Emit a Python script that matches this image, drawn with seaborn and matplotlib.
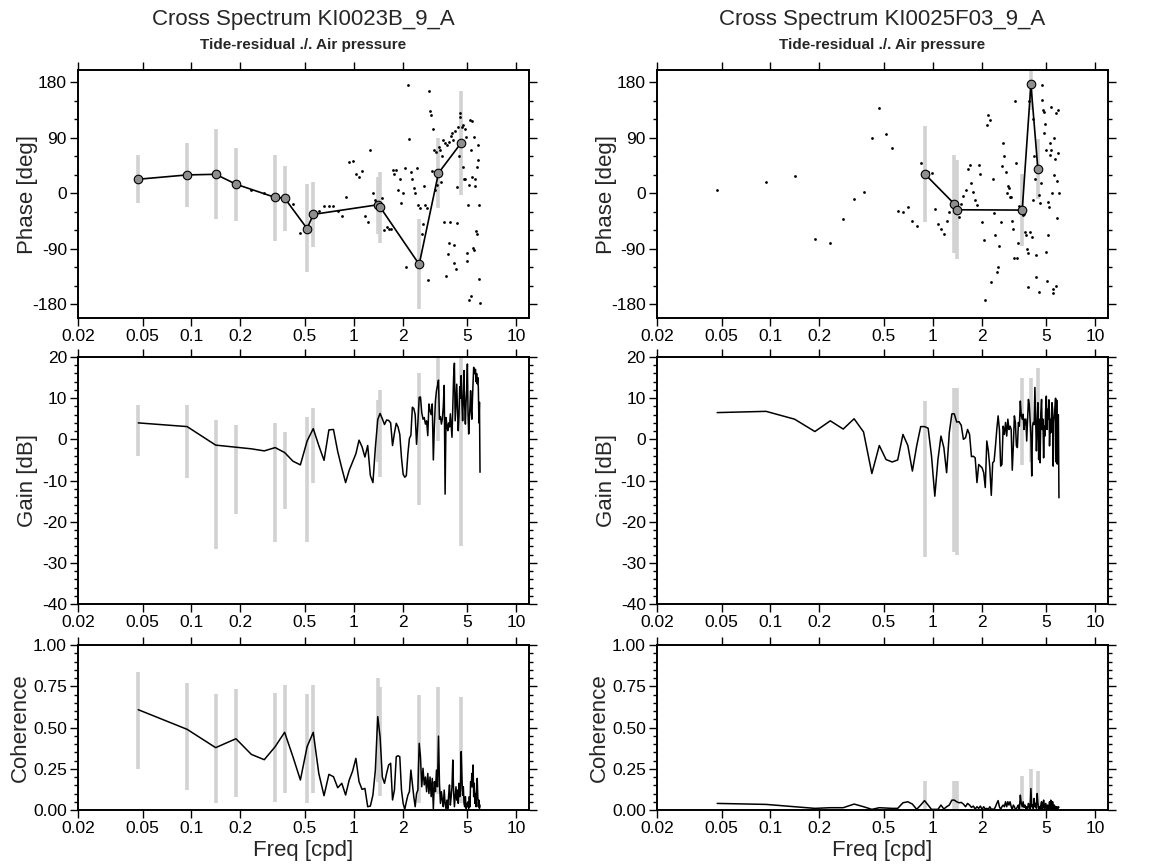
import matplotlib
matplotlib.use("Agg")
import matplotlib.pyplot as plt
import seaborn as sns
from matplotlib.ticker import (FixedLocator, FixedFormatter, MultipleLocator,
                               NullLocator, FormatStrFormatter)

# ---------------- data ----------------
freq = [0.047, 0.094, 0.141, 0.188, 0.234, 0.281, 0.328, 0.375, 0.422, 0.469,
        0.516, 0.563, 0.609, 0.656, 0.703, 0.750, 0.797, 0.844, 0.891, 0.938,
        0.984, 1.031, 1.078, 1.125, 1.172, 1.219, 1.266, 1.313, 1.359, 1.406,
        1.453, 1.500, 1.547, 1.594, 1.641, 1.688, 1.734, 1.781, 1.828, 1.875,
        1.922, 1.969, 2.016, 2.063, 2.109, 2.156, 2.203, 2.250, 2.297, 2.344,
        2.391, 2.438, 2.484, 2.531, 2.578, 2.625, 2.672, 2.719, 2.766, 2.813,
        2.859, 2.906, 2.953, 3.000, 3.047, 3.094, 3.141, 3.188, 3.234, 3.281,
        3.328, 3.375, 3.422, 3.469, 3.516, 3.563, 3.609, 3.656, 3.703, 3.750,
        3.797, 3.844, 3.891, 3.938, 3.984, 4.031, 4.078, 4.125, 4.172, 4.219,
        4.266, 4.313, 4.359, 4.406, 4.453, 4.500, 4.547, 4.594, 4.641, 4.688,
        4.734, 4.781, 4.828, 4.875, 4.922, 4.969, 5.016, 5.063, 5.109, 5.156,
        5.203, 5.250, 5.297, 5.344, 5.391, 5.438, 5.484, 5.531, 5.578, 5.625,
        5.672, 5.719, 5.766, 5.813, 5.859, 5.906, 5.953, 6.000]

xtick_values = [0.02, 0.05, 0.1, 0.2, 0.5, 1, 2, 5, 10]
xtick_labels = ["0.02", "0.05", "0.1", "0.2", "0.5", "1", "2", "5", "10"]

# ---- left station: KI0023B_9_A ----
left_title = "Cross Spectrum KI0023B_9_A"
subtitle = "Tide-residual ./. Air pressure"

left_phase_dots = [23, 30, 31, 15, 5, 0, -6.5, -7.6, -17, -64,
                   -57, -34, -28, -20, -21, -20, -28, -36, -5, 51,
                   52, 32, 26, 37, -37, -46, 70, 0, -10, -18,
                   -22, -8, -60, -54, -57, -58, 38, 31, 38, 5,
                   24, -16, 1, 41, -120, 176, 88, 35, 24, 9,
                   1, 41, -19, -115, -24, -66, -50, 12, -19, -24,
                   -141, 166, 133, 127, 37, 104, 70, 6, 67, 13,
                   33, 76, 71, 19, 60, 86, -46, 82, -134, 78,
                   -99, -81, 83, -46, 93, 98, 87, -83, -112, 102,
                   -122, -48, 10, 107, 60, 124, 130, 82, 107, 43,
                   111, 24, 105, 24, 91, -97, -110, -19, 13, -173,
                   119, 70, -166, 117, 26, -89, -92, 92, 24, 12,
                   -61, 43, -65, 54, 78, -19, -138, -178]

left_gain = [4.0, 3.1, -1.4, -1.9, -2.3, -2.8, -2.0, -3.2, -5.3, -6.2,
             -0.4, 2.6, -1.5, -5.1, 2.3, 2.4, -3.0, -7.0, -10.5, -7.5,
             -5.5, -3.5, -0.2, -1.8, -4.3, -1.5, -8.8, -10.5, -2.0, 4.8,
             6.3, 5.0, 3.6, 4.7, 4.6, 4.0, -1.5, 1.5, 3.9, 3.0,
             1.2, -4.5, -8.5, -9.2, -8.8, -3.5, 0.2, 1.0, 7.8, 7.5,
             6.0, -1.2, 4.0, 10.2, 10.3, 6.5, 4.9, 5.3, 3.7, 4.5,
             0.9, 8.6, 7.0, 6.0, 8.6, -5.0, 3.5, 9.4, 11.8, 13.0,
             14.4, 4.9, 5.5, 3.7, 5.0, 8.0, 13.1, -13.3, 5.3, 3.5,
             2.1, 4.0, 3.0, 6.2, 3.5, 0.5, 8.0, 15.1, 18.5, 4.5,
             9.0, 13.4, 7.0, 2.1, 6.0, 12.8, 10.0, 15.5, 9.0, 4.5,
             10.0, 16.7, 8.0, 3.7, 9.0, 12.0, 18.3, 6.0, 1.3, 5.0,
             8.0, 11.8, 7.0, 4.9, 10.0, 14.0, 17.5, 16.5, 15.9, 17.0,
             14.0, 16.0, 13.5, 15.0, 12.5, 4.0, 9.0, -8.0]

left_coh = [0.608, 0.489, 0.378, 0.432, 0.337, 0.305, 0.384, 0.471, 0.323, 0.182,
            0.384, 0.471, 0.222, 0.087, 0.216, 0.202, 0.135, 0.162, 0.091, 0.182,
            0.236, 0.313, 0.172, 0.125, 0.131, 0.020, 0.024, 0.091, 0.242, 0.566,
            0.444, 0.200, 0.162, 0.222, 0.273, 0.283, 0.061, 0.121, 0.323, 0.329,
            0.323, 0.121, 0.040, 0.004, 0.050, 0.090, 0.111, 0.242, 0.162, 0.081,
            0.020, 0.100, 0.121, 0.404, 0.323, 0.141, 0.253, 0.152, 0.200, 0.111,
            0.222, 0.100, 0.200, 0.081, 0.192, 0.008, 0.172, 0.111, 0.242, 0.141,
            0.448, 0.162, 0.040, 0.111, 0.060, 0.020, 0.121, 0.040, 0.010, 0.060,
            0.008, 0.090, 0.152, 0.030, 0.081, 0.141, 0.303, 0.111, 0.020, 0.081,
            0.141, 0.060, 0.121, 0.040, 0.162, 0.081, 0.121, 0.354, 0.200, 0.090,
            0.141, 0.040, 0.020, 0.081, 0.010, 0.040, 0.020, 0.050, 0.010, 0.081,
            0.020, 0.172, 0.141, 0.222, 0.141, 0.273, 0.081, 0.162, 0.040, 0.100,
            0.020, 0.121, 0.192, 0.081, 0.020, 0.060, 0.010, 0.030]

left_sig_freq = [0.047, 0.094, 0.141, 0.188, 0.328, 0.375, 0.516, 0.563,
                 1.406, 1.453, 2.531, 3.328, 4.594]
left_sig_phase = [23, 30, 31, 15, -6.5, -7.6, -57, -34, -18.4, -22, -115, 33, 82]
left_phase_hi = [62, 81, 104, 74, 63, 45, 15, 18, 26, 35, -42, 90, 166]
left_phase_lo = [-15, -22, -42, -44, -77, -61, -128, -87, -65, -81, -188, -23, -3]
left_gain_hi = [8.3, 8.3, 4.7, 3.6, 3.9, 1.9, 5.5, 7.7, 9.6, 11.9, 16.0, 21.0, 21.0]
left_gain_lo = [-4.0, -9.3, -26.6, -18.2, -25.0, -17.0, -25.0, -10.7, -5.5, -9.1,
                -15.9, -0.4, -25.8]
left_coh_hi = [0.834, 0.772, 0.703, 0.735, 0.709, 0.760, 0.703, 0.760, 0.798, 0.743,
               0.700, 0.747, 0.687]
left_coh_lo = [0.246, 0.121, 0.044, 0.077, 0.048, 0.105, 0.044, 0.105, 0.172, 0.085,
               0.044, 0.100, 0.040]

# ---- right station: KI0025F03_9_A ----
right_title = "Cross Spectrum KI0025F03_9_A"

right_phase_dots = [5, 19, 29, -74, -81, -42, -9, 3, 90, 139,
                    96, 73, -28, -30, -22, -44, -52, 50, 32, 35,
                    33, -25, -50, -58, -65, -44, -30, -17, -17, -27,
                    -39, -17, -4, 5, 40, 46, 17, 3, -11, -19,
                    46, 32, -47, -76, -172, 111, 127, 119, -143, 23,
                    -32, -68, -128, -120, -85, -47, 44, 81, 61, 35,
                    0, 12, 8, -5, -5, -44, -58, -105, 150, 49,
                    -105, -81, -20, -30, -27, -27, -35, -33, -62, -68,
                    -90, -97, -151, 150, -62, 177, -70, 120, -10, 60,
                    23, -100, -135, 39, 39, -159, -3, -16, 17, 176,
                    151, 135, 132, 98, 113, 70, -95, -142, -68, -14,
                    -22, 62, 82, 70, 140, 0, -162, -155, 30, 90,
                    55, 130, -150, 20, -40, 135, 65, 0]

right_gain = [6.5, 6.8, 4.9, 1.9, 4.5, 2.5, 5.0, 1.8, -8.3, -1.5,
              -4.9, -5.5, -5.0, 1.2, -1.5, -7.7, -1.6, 3.1, 3.1, 2.7,
              -4.1, -13.8, -4.9, 0.8, -2.0, -8.1, 1.6, 6.2, 6.2, 4.2,
              4.3, 3.4, 0.0, 0.4, 2.4, 1.2, -4.2, -4.1, -4.5, -10.5,
              -6.1, -6.5, -6.9, -8.1, -11.7, -0.4, -2.8, -6.9, -13.6, -5.7,
              -5.3, -1.6, 2.4, 5.7, 2.4, -6.5, -6.1, 3.2, 1.2, 4.1,
              0.8, 4.9, 2.4, 3.2, 2.4, -7.5, -1.6, 5.7, 4.1, -1.6,
              -2.0, 4.1, 3.2, 9.3, 5.7, 4.9, 6.1, 2.4, 4.9, 4.9,
              -0.4, 4.9, 9.7, 8.5, 4.9, 0.8, -8.9, 3.2, 4.1, 3.6,
              12.6, 4.9, -2.8, 4.1, 8.9, -4.9, 4.9, -5.7, 6.5, 9.7,
              2.4, 4.9, -4.5, 3.2, 0.8, 7.3, 10.5, 2.4, 7.3, 4.9,
              9.6, -1.6, 4.9, 1.6, 5.7, 8.9, 7.3, -6.5, 4.1, 5.7,
              7.5, 10.0, -5.5, 9.5, -6.0, 5.5, 6.0, -14.2]

right_coh = [0.040, 0.034, 0.020, 0.010, 0.014, 0.014, 0.036, 0.020, 0.004, 0.014,
             0.012, 0.010, 0.010, 0.044, 0.050, 0.036, 0.004, 0.030, 0.057, 0.030,
             0.004, 0.004, 0.004, 0.030, 0.006, 0.020, 0.030, 0.060, 0.060, 0.050,
             0.044, 0.046, 0.036, 0.020, 0.040, 0.030, 0.016, 0.024, 0.006, 0.020,
             0.010, 0.024, 0.004, 0.020, 0.006, 0.010, 0.004, 0.020, 0.004, 0.006,
             0.004, 0.020, 0.040, 0.057, 0.020, 0.004, 0.020, 0.030, 0.020, 0.050,
             0.020, 0.050, 0.030, 0.050, 0.020, 0.004, 0.030, 0.020, 0.004, 0.008,
             0.020, 0.030, 0.004, 0.090, 0.040, 0.020, 0.050, 0.016, 0.030, 0.008,
             0.020, 0.004, 0.040, 0.020, 0.006, 0.130, 0.020, 0.030, 0.008, 0.070,
             0.020, 0.040, 0.010, 0.100, 0.040, 0.010, 0.020, 0.004, 0.030, 0.050,
             0.004, 0.020, 0.060, 0.010, 0.020, 0.040, 0.004, 0.016, 0.030, 0.004,
             0.020, 0.050, 0.010, 0.060, 0.020, 0.004, 0.050, 0.016, 0.006, 0.030,
             0.010, 0.020, 0.004, 0.020, 0.016, 0.008, 0.020, 0.016]

right_sig_freq = [0.891, 1.359, 1.406, 3.563, 4.031, 4.453]
right_sig_phase = [32, -17, -26.5, -27, 177, 39]
right_phase_hi = [110, 62, 54, 31, 240, 88]
right_phase_lo = [-47, -97, -106, -85, 135, -9]
right_gain_hi = [9.3, 12.4, 12.4, 14.8, 14.8, 17.4]
right_gain_lo = [-28.5, -27.3, -28.1, -6.2, -5.5, -0.2]
right_coh_hi = [0.178, 0.178, 0.178, 0.208, 0.248, 0.234]
right_coh_lo = [0.0, 0.0, 0.0, 0.0, 0.0, 0.0]

# ---------------- style ----------------
sns.set_style("ticks")
plt.rcParams["font.family"] = ["Liberation Sans", "DejaVu Sans"]
plt.rcParams["axes.unicode_minus"] = False

BAR_COLOR = "#d2d2d2"
CIRCLE_COLOR = "#8e8e8e"
TICK_FS = 12.5
LABEL_FS = 16

fig = plt.figure(figsize=(11.56, 8.68), dpi=100)

col_x = [0.0675, 0.5683]
col_w = 0.390
row_phase = (0.6336, 0.2857)
row_gain = (0.3041, 0.2846)
row_coh = (0.0668, 0.1901)


def style_axis(ax, ylim, major, minor, ylabel, fmt=None, xlabel=None,
               label_x=-0.088):
    ax.set_xscale("log")
    ax.set_xlim(0.02, 12.0)
    ax.set_ylim(*ylim)
    ax.xaxis.set_major_locator(FixedLocator(xtick_values))
    ax.xaxis.set_major_formatter(FixedFormatter(xtick_labels))
    ax.xaxis.set_minor_locator(NullLocator())
    ax.yaxis.set_major_locator(MultipleLocator(major))
    ax.yaxis.set_minor_locator(MultipleLocator(minor))
    if fmt is not None:
        ax.yaxis.set_major_formatter(FormatStrFormatter(fmt))
    ax.tick_params(which="both", direction="out", top=True, right=True,
                   labeltop=False, labelright=False, labelsize=TICK_FS,
                   width=1.0, colors="black")
    ax.tick_params(which="major", length=6)
    ax.tick_params(which="minor", length=3)
    ax.tick_params(axis="x", which="major", pad=2)
    ax.tick_params(axis="y", which="major", pad=2)
    for sp in ax.spines.values():
        sp.set_visible(True)
        sp.set_linewidth(1.4)
        sp.set_color("black")
    ax.set_ylabel(ylabel, fontsize=LABEL_FS)
    ax.yaxis.set_label_coords(label_x, 0.5)
    if xlabel:
        ax.set_xlabel(xlabel, fontsize=LABEL_FS, labelpad=3)
    else:
        ax.set_xlabel("")


def draw_station(x0, title, dots, sig_f, sig_p, p_hi, p_lo,
                 gain, g_hi, g_lo, coh, c_hi, c_lo):
    # Phase
    ax = fig.add_axes([x0, row_phase[0], col_w, row_phase[1]])
    ax.vlines(sig_f, p_lo, p_hi, color=BAR_COLOR, lw=2.6, zorder=1)
    sns.scatterplot(x=freq, y=dots, ax=ax, color="black", s=4,
                    linewidth=0, zorder=2, legend=False)
    sns.lineplot(x=sig_f, y=sig_p, ax=ax, color="black", lw=1.2,
                 sort=False, estimator=None, zorder=3)
    sns.scatterplot(x=sig_f, y=sig_p, ax=ax, color=CIRCLE_COLOR,
                    edgecolor="black", linewidth=0.8, s=38, zorder=4,
                    legend=False)
    style_axis(ax, (-202, 200), 90, 30, "Phase [deg]")
    cx = x0 + col_w / 2
    fig.text(cx, 0.977, title, ha="center", va="center", fontsize=16)
    fig.text(cx, 0.948, subtitle, ha="center", va="center",
             fontsize=11, fontweight="bold")

    # Gain
    ax = fig.add_axes([x0, row_gain[0], col_w, row_gain[1]])
    ax.vlines(sig_f, g_lo, g_hi, color=BAR_COLOR, lw=2.6, zorder=1)
    sns.lineplot(x=freq, y=gain, ax=ax, color="black", lw=1.1,
                 sort=False, estimator=None, zorder=3)
    style_axis(ax, (-40, 20), 10, 2, "Gain [dB]")

    # Coherence
    ax = fig.add_axes([x0, row_coh[0], col_w, row_coh[1]])
    ax.vlines(sig_f, c_lo, c_hi, color=BAR_COLOR, lw=2.6, zorder=1)
    sns.lineplot(x=freq, y=coh, ax=ax, color="black", lw=1.1,
                 sort=False, estimator=None, zorder=3)
    style_axis(ax, (0, 1), 0.25, 0.05, "Coherence", fmt="%.2f",
               xlabel="Freq [cpd]", label_x=-0.104)


draw_station(col_x[0], left_title, left_phase_dots, left_sig_freq,
             left_sig_phase, left_phase_hi, left_phase_lo,
             left_gain, left_gain_hi, left_gain_lo,
             left_coh, left_coh_hi, left_coh_lo)
draw_station(col_x[1], right_title, right_phase_dots, right_sig_freq,
             right_sig_phase, right_phase_hi, right_phase_lo,
             right_gain, right_gain_hi, right_gain_lo,
             right_coh, right_coh_hi, right_coh_lo)

fig.savefig("out.png", dpi=100)
